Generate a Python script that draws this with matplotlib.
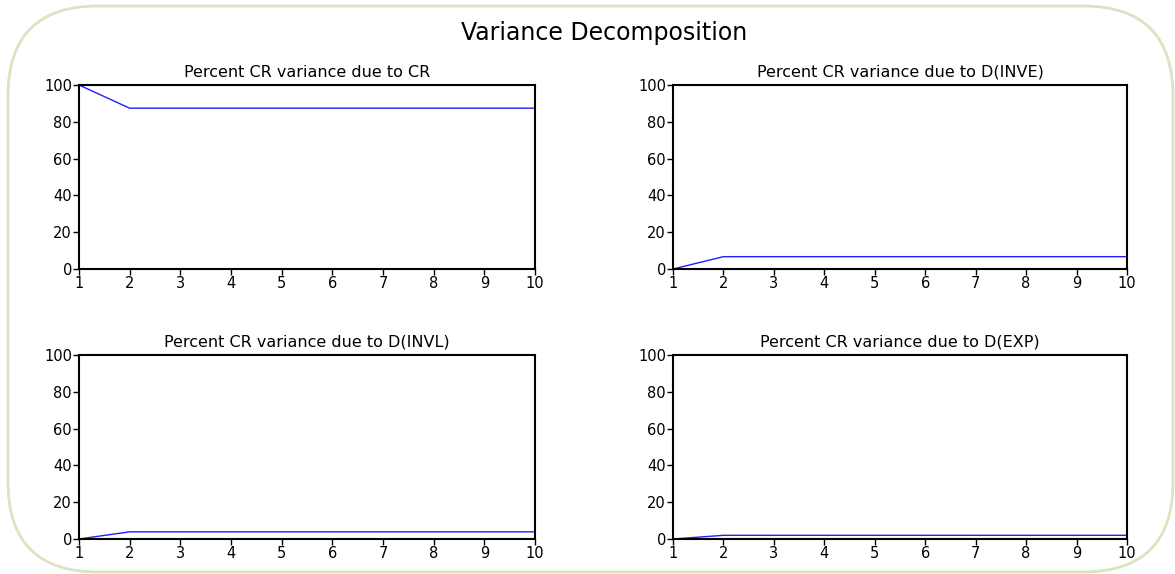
import numpy as np
import matplotlib
matplotlib.use("Agg")
import matplotlib.pyplot as plt
from matplotlib.patches import FancyBboxPatch

# 期間
periods = list(range(1, 11))

# 各ショックによる CR の分散分解 (%)
cr_cr = [100.0, 87.4, 87.4, 87.4, 87.4, 87.4, 87.4, 87.4, 87.4, 87.4]
cr_inve = [0.0, 6.7, 6.7, 6.7, 6.7, 6.7, 6.7, 6.7, 6.7, 6.7]
cr_invl = [0.0, 3.9, 3.9, 3.9, 3.9, 3.9, 3.9, 3.9, 3.9, 3.9]
cr_exp = [0.0, 2.0, 2.0, 2.0, 2.0, 2.0, 2.0, 2.0, 2.0, 2.0]

panel_titles = [
    "Percent CR variance due to CR",
    "Percent CR variance due to D(INVE)",
    "Percent CR variance due to D(INVL)",
    "Percent CR variance due to D(EXP)",
]
panel_values = [cr_cr, cr_inve, cr_invl, cr_exp]

plt.rcParams["font.family"] = ["DejaVu Sans"]

W, H = 1175, 574
fig = plt.figure(figsize=(W / 100, H / 100), dpi=100)

# 角丸の枠 (インチ単位)
left, bottom, right, top = 0.08, 0.02, 11.73, 5.68
rad = 0.9
frame = FancyBboxPatch(
    (left + rad, bottom + rad), (right - left) - 2 * rad, (top - bottom) - 2 * rad,
    boxstyle=f"round,pad={rad}",
    transform=fig.dpi_scale_trans,
    facecolor="none", edgecolor="#d9e4c0", linewidth=2.0, zorder=-1,
)
fig.patches.append(frame)

fig.text(604 / W, 1 - 33 / H, "Variance Decomposition",
         ha="center", va="center", fontsize=17)

# パネルの位置 (ピクセル)
boxes = [
    (79, 85, 535, 269),
    (673, 85, 1127, 269),
    (79, 355, 535, 539),
    (673, 355, 1127, 539),
]

for (x0, y0, x1, y1), title, vals in zip(boxes, panel_titles, panel_values):
    ax = fig.add_axes([x0 / W, 1 - y1 / H, (x1 - x0) / W, (y1 - y0) / H])
    ax.plot(periods, vals, color="#1f1fff", linewidth=1.0)
    ax.set_xlim(1, 10)
    ax.set_ylim(0, 100)
    ax.set_xticks(periods)
    ax.set_yticks([0, 20, 40, 60, 80, 100])
    ax.tick_params(direction="out", length=4, width=1, labelsize=10.5, pad=1)
    for s in ax.spines.values():
        s.set_linewidth(1.5)
    ax.set_title(title, fontsize=11.5, pad=6)

fig.savefig("out.png", dpi=100)
